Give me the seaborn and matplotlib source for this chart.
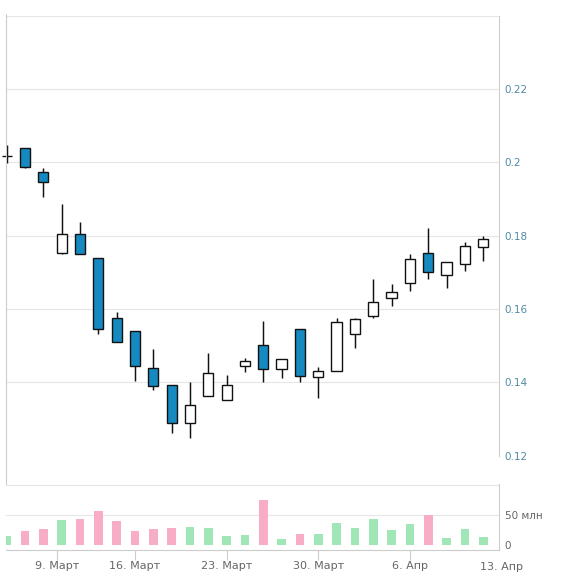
import numpy as np
import pandas as pd
import matplotlib
matplotlib.use("Agg")
import matplotlib.pyplot as plt
from matplotlib.lines import Line2D
import seaborn as sns

# ---------------- data ----------------
dates = ["2020-03-04", "2020-03-05", "2020-03-06", "2020-03-10", "2020-03-11",
         "2020-03-12", "2020-03-13", "2020-03-16", "2020-03-17", "2020-03-18",
         "2020-03-19", "2020-03-20", "2020-03-23", "2020-03-24", "2020-03-25",
         "2020-03-26", "2020-03-27", "2020-03-30", "2020-03-31", "2020-04-01",
         "2020-04-02", "2020-04-03", "2020-04-06", "2020-04-07", "2020-04-08",
         "2020-04-09", "2020-04-10"]
opens = [0.2018, 0.2038, 0.1974, 0.1754, 0.1804, 0.1738, 0.1575, 0.1539, 0.1438,
         0.1392, 0.1288, 0.1363, 0.1352, 0.1445, 0.1501, 0.1436, 0.1545, 0.1414,
         0.1430, 0.1531, 0.1580, 0.1629, 0.1670, 0.1752, 0.1692, 0.1722, 0.1768]
highs = [0.2047, 0.2038, 0.1984, 0.1886, 0.1837, 0.1738, 0.1592, 0.1539, 0.1491,
         0.1392, 0.1400, 0.1479, 0.1419, 0.1466, 0.1567, 0.1463, 0.1545, 0.1441,
         0.1575, 0.1575, 0.1681, 0.1667, 0.1750, 0.1822, 0.1727, 0.1783, 0.1799]
lows = [0.1999, 0.1984, 0.1905, 0.1749, 0.1749, 0.1531, 0.1509, 0.1404, 0.1378,
        0.1261, 0.1247, 0.1363, 0.1352, 0.1427, 0.1402, 0.1413, 0.1402, 0.1356,
        0.1430, 0.1494, 0.1574, 0.1609, 0.1650, 0.1683, 0.1658, 0.1704, 0.1732]
closes = [0.2018, 0.1986, 0.1945, 0.1804, 0.1750, 0.1545, 0.1509, 0.1445, 0.1389,
          0.1288, 0.1337, 0.1425, 0.1392, 0.1457, 0.1436, 0.1463, 0.1416, 0.1430,
          0.1564, 0.1572, 0.1618, 0.1646, 0.1736, 0.1700, 0.1727, 0.1771, 0.1790]
volume_mln = [15, 23, 27, 42, 44, 57, 40, 23, 27, 28, 30, 28, 15, 17, 75, 10, 18,
              18, 37, 28, 43, 25, 35, 50, 12, 27, 13]

price_ticks = [0.12, 0.14, 0.16, 0.18, 0.20, 0.22, 0.24]
price_labels = ["0.12", "0.14", "0.16", "0.18", "0.2", "0.22", ""]
vol_ticks = [0, 50]
vol_labels = ["0", "50 млн"]
date_tick_pos = [2.75, 7, 12, 17, 22]
date_tick_labels = ["9. Март", "16. Март", "23. Март", "30. Март", "6. Апр"]
last_tick_pos = 27
last_tick_label = "13. Апр"

# ---------------- style ----------------
sns.set_theme(style="white")
plt.rcParams["font.family"] = ["DejaVu Sans"]

BLUE = "#1589c0"
EDGE = "#111111"
GREEN = "#a0e6b6"
PINK = "#f8adc7"
GRID = "#e6e6e6"
BORDER = "#cccccc"
PRICE_LBL = "#4f8aa3"
LBL = "#666666"

W, H = 565, 576
fig = plt.figure(figsize=(W / 100, H / 100), dpi=100)
fig.patch.set_facecolor("white")

axp = fig.add_axes([6 / W, 1 - 455.6 / H, 493 / W, 439.9 / H])
axv = fig.add_axes([6 / W, 1 - 550 / H, 493 / W, 66 / H])

idx = np.arange(len(dates))
o = np.array(opens); c = np.array(closes)
h = np.array(highs); l = np.array(lows)
up = c >= o

xlim = (-0.038, 26.86)

# ---------------- price pane ----------------
axp.vlines(idx, l, h, color=EDGE, linewidth=1.05, zorder=2, clip_on=False)
axp.bar(idx, np.abs(c - o), bottom=np.minimum(o, c), width=0.56,
        color=np.where(up, "white", BLUE), edgecolor=EDGE, linewidth=1.0,
        zorder=3, clip_on=False)
axp.set_xlim(*xlim)
axp.set_ylim(0.12, 0.24)
axp.set_yticks(price_ticks)
axp.set_yticklabels(price_labels)
axp.yaxis.tick_right()
axp.tick_params(axis="y", length=0, pad=4, labelsize=7.5, labelcolor=PRICE_LBL)
axp.set_xticks([])
axp.grid(axis="y", color=GRID, linewidth=0.8)
axp.set_axisbelow(True)
for s in ["top", "bottom", "left"]:
    axp.spines[s].set_visible(False)
axp.spines["right"].set_color(BORDER)
axp.spines["right"].set_linewidth(0.8)

# ---------------- volume pane ----------------
df = pd.DataFrame({"idx": idx, "vol": volume_mln,
                   "dir": np.where(up, "up", "down")})
sns.barplot(data=df, x="idx", y="vol", hue="dir",
            palette={"up": GREEN, "down": PINK}, native_scale=True,
            dodge=False, width=0.47, saturation=1, errorbar=None,
            legend=False, linewidth=0, ax=axv)
axv.set_xlim(*xlim)
axv.set_ylim(-8.3, 101.7)
for yv in [50, 100]:
    axv.axhline(yv, color=GRID, linewidth=0.8, zorder=0)
axv.set_yticks(vol_ticks)
axv.set_yticklabels(vol_labels)
axv.yaxis.tick_right()
axv.tick_params(axis="y", length=0, pad=4, labelsize=7.5, labelcolor=LBL)
axv.set_xticks(date_tick_pos)
axv.set_xticklabels(date_tick_labels)
axv.tick_params(axis="x", direction="out", length=7, width=0.8, color=BORDER,
                pad=1, labelsize=8, labelcolor=LBL, bottom=True)
axv.annotate(last_tick_label, xy=(last_tick_pos, 0),
             xycoords=("data", "axes fraction"), xytext=(0, -8.5),
             textcoords="offset points", ha="center", va="top",
             fontsize=8, color=LBL, annotation_clip=False)
axv.set_xlabel("")
axv.set_ylabel("")
axv.grid(False)
for s in ["top", "left"]:
    axv.spines[s].set_visible(False)
for s in ["right", "bottom"]:
    axv.spines[s].set_color(BORDER)
    axv.spines[s].set_linewidth(0.8)

# left border line spanning price pane down to the volume pane
fig.add_artist(Line2D([6 / W, 6 / W], [1 - 14 / H, 1 - 484 / H],
                      color=BORDER, linewidth=0.8))

fig.savefig("out.png", dpi=100, facecolor="white")
